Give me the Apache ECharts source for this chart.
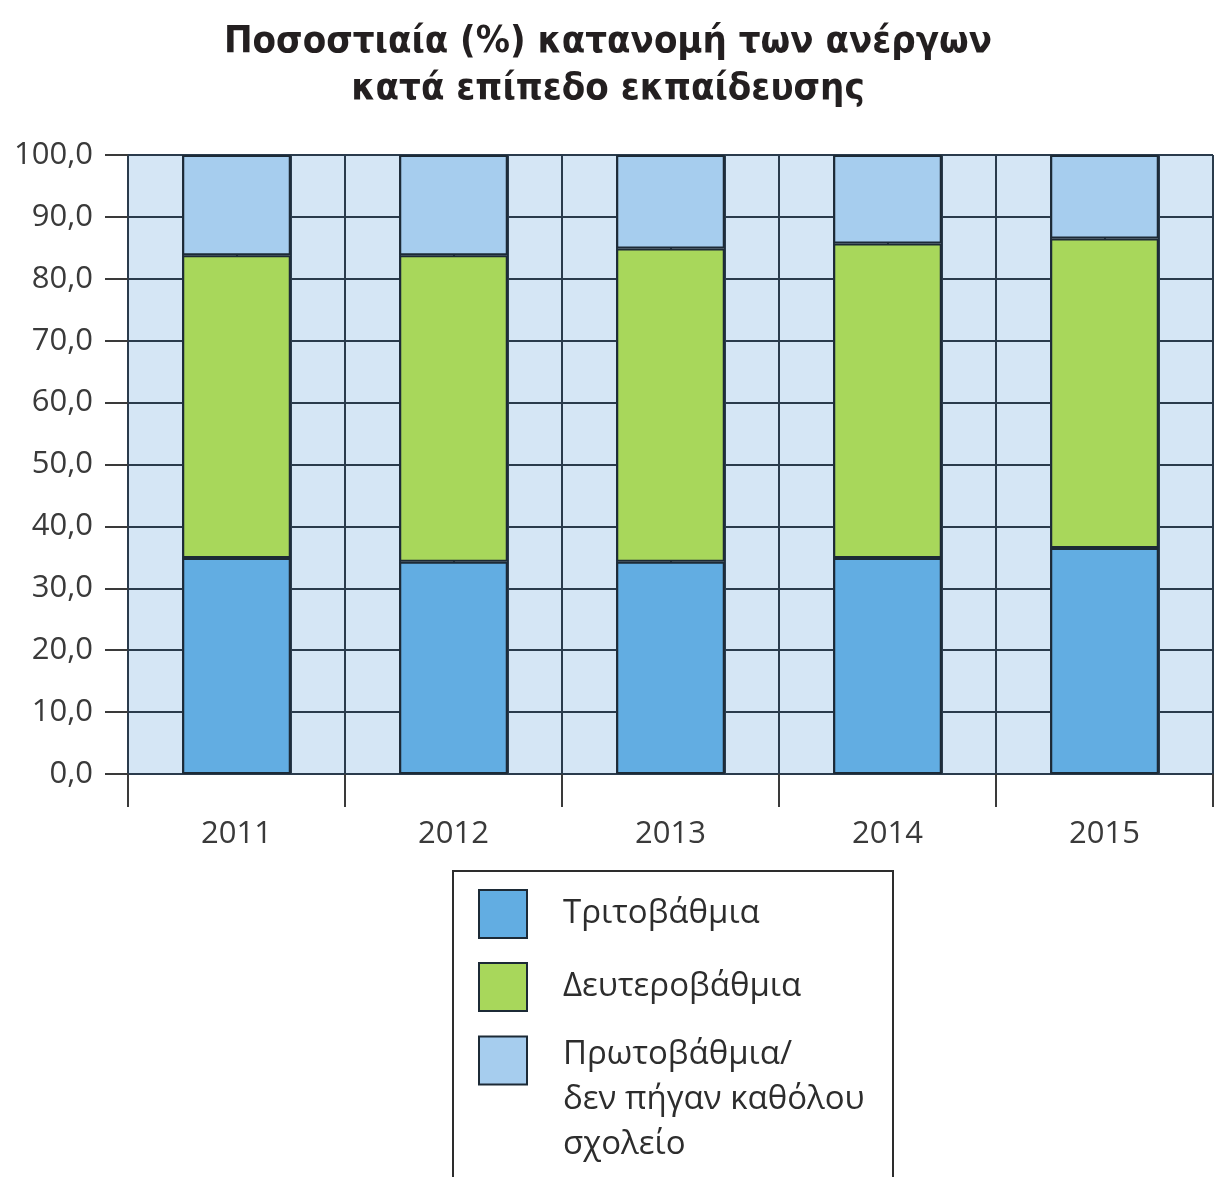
<!DOCTYPE html>
<html>
<head>
<meta charset="utf-8">
<script src="https://cdn.jsdelivr.net/npm/echarts@6/dist/echarts.min.js"></script>
<style>
html,body{margin:0;padding:0;background:#fff;}
#chart{width:1216px;height:1177px;}
</style>
</head>
<body>
<div id="chart"></div>
<script>
const titleText = 'Ποσοστιαία (%) κατανομή των ανέργων\nκατά επίπεδο εκπαίδευσης';
const years = ['2011', '2012', '2013', '2014', '2015'];
const seriesNames = ['Τριτοβάθμια', 'Δευτεροβάθμια', 'Πρωτοβάθμια/\nδεν πήγαν καθόλου\nσχολείο'];
const tertiary = [34.9, 34.3, 34.3, 34.9, 36.5];
const secondary = [48.9, 49.5, 50.6, 50.8, 50.0];
const primary = [16.2, 16.2, 15.1, 14.3, 13.5];
const yTicks = [0, 10, 20, 30, 40, 50, 60, 70, 80, 90, 100];

const FONT = '"Open Sans", "Noto Sans", sans-serif';
const LINE = '#2a3b4c';
const BORDER = '#1c2a36';
const colors = ['#62ade2', '#a8d75b', '#a6cdee'];

const chart = echarts.init(document.getElementById('chart'), null, {renderer: 'canvas'});

const mkSeries = (name, data, color) => ({
  name: name,
  type: 'bar',
  stack: 'total',
  xAxisIndex: 0,
  yAxisIndex: 0,
  barWidth: '50%',
  data: data,
  itemStyle: {color: color, borderColor: BORDER, borderWidth: 2},
  emphasis: {disabled: true}
});

chart.setOption({
  animation: false,
  backgroundColor: '#ffffff',
  title: {
    text: titleText,
    left: 'center',
    top: 14,
    textStyle: {
      fontFamily: '"DejaVu Sans Condensed", "Open Sans", sans-serif',
      fontWeight: 'bold',
      fontSize: 38,
      lineHeight: 47,
      color: '#231f20'
    }
  },
  grid: {
    left: 128, right: 3, top: 155, bottom: 403,
    show: true,
    backgroundColor: '#d5e6f5',
    borderWidth: 0
  },
  legend: [
    {
      orient: 'vertical',
      left: 478,
      top: 889,
      padding: 0,
      itemWidth: 48,
      itemHeight: 48,
      itemGap: 23,
      icon: 'rect',
      selectedMode: false,
      data: [seriesNames[0], seriesNames[1]],
      itemStyle: {borderColor: BORDER, borderWidth: 2},
      textStyle: {fontFamily: FONT, fontSize: 33, color: '#2d2d2d', padding: [0, 0, 0, 31]}
    },
    {
      orient: 'vertical',
      left: 478,
      top: 988,
      padding: 0,
      itemWidth: 48,
      itemHeight: 48,
      icon: 'rect',
      selectedMode: false,
      data: [seriesNames[2]],
      itemStyle: {borderColor: BORDER, borderWidth: 2},
      formatter: name => '{g| }\n' + name.split('\n').map(s => '{t|' + s + '}').join('\n'),
      textStyle: {
        fontFamily: FONT, fontSize: 33, color: '#2d2d2d', padding: [0, 0, 0, 31],
        rich: {
          g: {fontSize: 10, lineHeight: 78},
          t: {fontFamily: FONT, fontSize: 33, lineHeight: 45, color: '#2d2d2d'}
        }
      }
    }
  ],
  graphic: [
    {
      type: 'rect',
      left: 452,
      top: 870,
      z: -1,
      shape: {width: 440, height: 330},
      style: {fill: '#ffffff', stroke: '#2d2d2d', lineWidth: 2}
    }
  ],
  xAxis: [
    {
      type: 'category',
      data: years,
      boundaryGap: true,
      axisLine: {show: true, lineStyle: {color: LINE, width: 2}},
      axisTick: {show: true, length: 33, lineStyle: {color: '#3a3a3a', width: 2}},
      axisLabel: {fontFamily: FONT, fontSize: 31, color: '#3a3a3a', margin: 45},
      splitLine: {show: false}
    },
    {
      type: 'value',
      min: 0, max: 20, interval: 1,
      position: 'top',
      axisLine: {show: false},
      axisTick: {show: false},
      axisLabel: {show: false},
      splitLine: {show: true, lineStyle: {color: LINE, width: 2}}
    }
  ],
  yAxis: {
    type: 'value',
    min: 0, max: 100, interval: 10,
    axisLine: {show: true, lineStyle: {color: LINE, width: 2}},
    axisTick: {show: true, length: 23, lineStyle: {color: '#3a3a3a', width: 2}},
    axisLabel: {
      fontFamily: FONT, fontSize: 31, color: '#3a3a3a', margin: 35,
      customValues: yTicks,
      formatter: v => v.toFixed(1).replace('.', ',')
    },
    splitLine: {show: true, lineStyle: {color: LINE, width: 2}}
  },
  series: [
    mkSeries(seriesNames[0], tertiary, colors[0]),
    mkSeries(seriesNames[1], secondary, colors[1]),
    mkSeries(seriesNames[2], primary, colors[2])
  ]
});
</script>
</body>
</html>
